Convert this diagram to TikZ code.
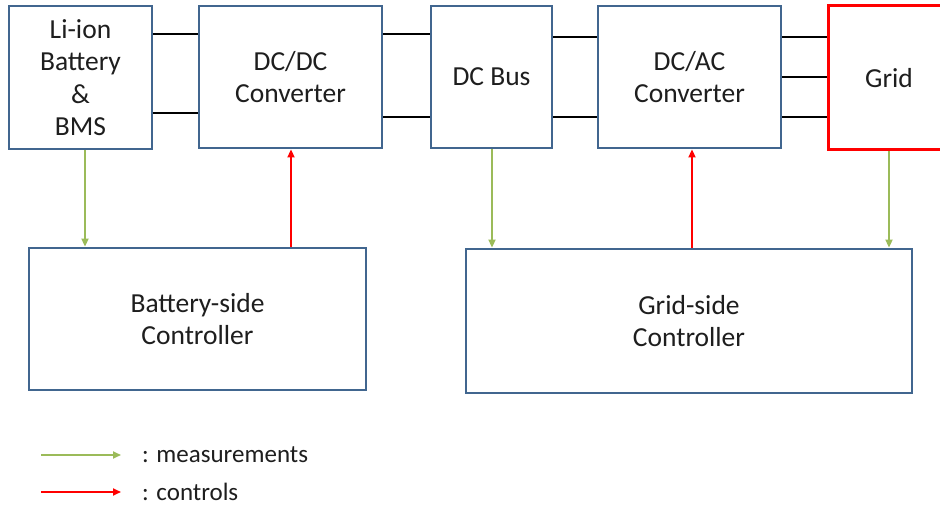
\documentclass[tikz,border=0pt]{standalone}
\usepackage{fontspec}
\setmainfont{Carlito}
\usetikzlibrary{arrows.meta}
\definecolor{boxblue}{HTML}{41668F}
\definecolor{measgreen}{HTML}{9BBB59}
\definecolor{ctrlred}{HTML}{FF0000}
\definecolor{txt}{HTML}{1E1E1E}
\tikzset{
  blk/.style={draw=boxblue, line width=2.8pt, fill=white, align=center, text=txt,
    font=\fontsize{27.5}{32.5}\selectfont, inner sep=0pt},
  gridblk/.style={blk, draw=ctrlred, line width=3pt},
  wire/.style={draw=black, line width=1.5pt},
  meas/.style={draw=measgreen, line width=1.7pt, -{Triangle[length=8pt,width=7pt]}},
  ctrl/.style={draw=ctrlred, line width=1.7pt, -{Triangle[length=8pt,width=7pt]}},
  legtxt/.style={anchor=west, text=txt, font=\fontsize{25}{30}\selectfont, inner sep=0pt}
}
\begin{document}
\begin{tikzpicture}[x=1pt,y=-1pt]
\clip (0,0) rectangle (940,505);
\fill[white] (0,0) rectangle (940,505);
% top row
\node[blk, minimum width=143pt, minimum height=143pt] (bat) at (80.5,77.5) {Li-ion\\Battery\\\&\\BMS};
\node[blk, minimum width=183pt, minimum height=142pt] (dcdc) at (290.5,77) {DC/DC\\Converter};
\node[blk, minimum width=121pt, minimum height=142pt] (bus) at (491.5,77) {DC Bus};
\node[blk, minimum width=183pt, minimum height=142pt] (dcac) at (689.5,77) {DC/AC\\Converter};
\node[gridblk, minimum width=122pt, minimum height=144pt] (grid) at (889,78) {Grid};
% controllers
\node[blk, minimum width=337pt, minimum height=142pt] (bctrl) at (197.5,319) {Battery-side\\Controller};
\node[blk, minimum width=446pt, minimum height=144pt] (gctrl) at (689,321) {Grid-side\\Controller};
% power wires
\draw[wire] (bat.east |- 0,34) -- (dcdc.west |- 0,34);
\draw[wire] (bat.east |- 0,113) -- (dcdc.west |- 0,113);
\draw[wire] (dcdc.east |- 0,34) -- (bus.west |- 0,34);
\draw[wire] (dcdc.east |- 0,117) -- (bus.west |- 0,117);
\draw[wire] (bus.east |- 0,37) -- (dcac.west |- 0,37);
\draw[wire] (bus.east |- 0,117) -- (dcac.west |- 0,117);
\draw[wire] (dcac.east |- 0,37) -- (grid.west |- 0,37);
\draw[wire] (dcac.east |- 0,77) -- (grid.west |- 0,77);
\draw[wire] (dcac.east |- 0,117) -- (grid.west |- 0,117);
% measurement / control arrows
\draw[meas] (bat.south -| 85,0) -- (bctrl.north -| 85,0);
\draw[ctrl] (bctrl.north -| 291,0) -- (dcdc.south -| 291,0);
\draw[meas] (bus.south -| 492,0) -- (gctrl.north -| 492,0);
\draw[ctrl] (gctrl.north -| 692,0) -- (dcac.south -| 692,0);
\draw[meas] (grid.south -| 889,0) -- (gctrl.north -| 889,0);
% legend
\coordinate (lm1) at (41,455);
\coordinate (lm2) at (121,455);
\coordinate (lc1) at (41,492);
\coordinate (lc2) at (121,492);
\draw[meas] (lm1) -- (lm2);
\draw[ctrl] (lc1) -- (lc2);
\node[legtxt] (lmt) at (142,455) {: measurements};
\node[legtxt] (lct) at (142,492) {: controls};
\end{tikzpicture}
\end{document}
